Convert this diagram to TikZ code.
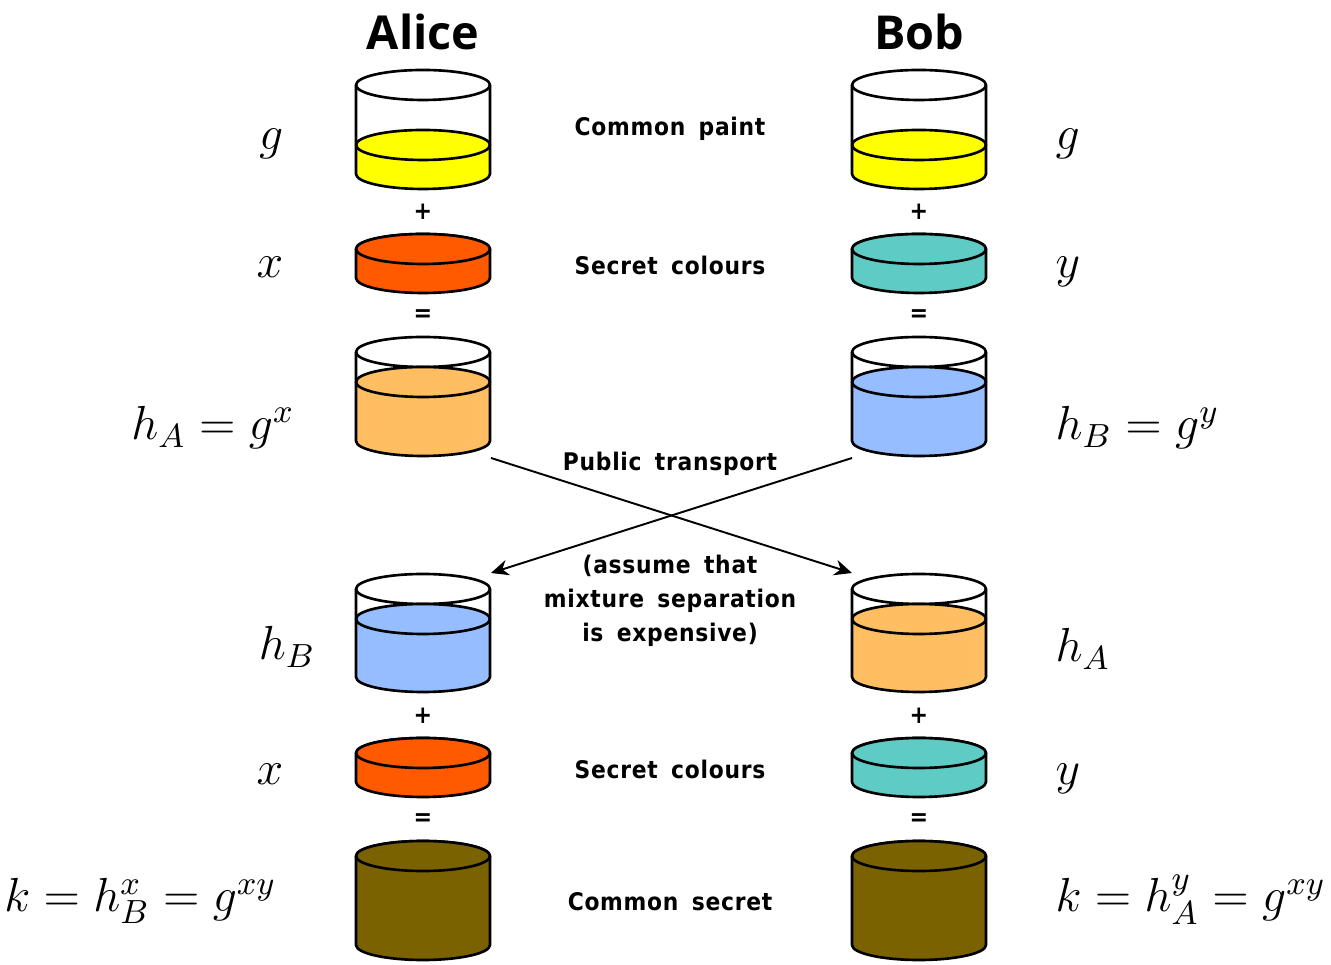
\RequirePackage{fix-cm}
\documentclass[tikz,border=0pt]{standalone}
\usepackage{fontspec}
\setsansfont{Open Sans}
\newfontfamily\capfont[FakeStretch=0.9,LetterSpace=3,WordSpace=1.6]{DejaVu Sans}
\usetikzlibrary{arrows.meta}
\definecolor{paint}{HTML}{FFFF00}
\definecolor{secretA}{HTML}{FF5A00}
\definecolor{secretB}{HTML}{5ECBC4}
\definecolor{mixA}{HTML}{FFBE62}
\definecolor{mixB}{HTML}{96BDFF}
\definecolor{shared}{HTML}{7B6200}

% \jar{centre x}{rim y}{liquid y}{base y}{colour}
\newcommand{\jar}[5]{%
  \draw[glass,fill=white] (#1,#2) ellipse[x radius=67,y radius=15];
  \fill[#5] (#1-67,#3) -- (#1-67,#4)
    arc[start angle=180,end angle=360,x radius=67,y radius=15] -- (#1+67,#3) -- cycle;
  \draw[glass,fill=#5] (#1,#3) ellipse[x radius=67,y radius=15];
  \draw[glass] (#1-67,#2) -- (#1-67,#4)
    arc[start angle=180,end angle=360,x radius=67,y radius=15] -- (#1+67,#2);
}

\begin{document}
\begin{tikzpicture}[x=0.01cm,y=0.01cm,
 glass/.style={line width=.75pt,line join=round},
 who/.style={font=\sffamily\bfseries\fontsize{13.3}{16}\selectfont},
 caption/.style={font=\capfont\bfseries\fontsize{6.9}{9.6}\selectfont,align=center},
 sym/.style={font=\capfont\bfseries\fontsize{7}{9}\selectfont,inner sep=0pt},
 maths/.style={font=\fontsize{13.6}{16}\selectfont,inner sep=0pt},
 transfer/.style={-{Stealth[length=5pt,width=4.5pt]},line width=.55pt}]
\path[use as bounding box] (0,0) rectangle (1331,964);
\node[who] (alice) at (423,932) {Alice};
\node[who] (bob) at (919,932) {Bob};
% Each side mixes the shared paint with its own colour.
\jar{423}{879}{819}{790}{paint}
\jar{919}{879}{819}{790}{paint}
\jar{423}{715}{715}{686}{secretA}
\jar{919}{715}{715}{686}{secretB}
\jar{423}{612}{582}{523}{mixA}
\jar{919}{612}{582}{523}{mixB}
% After the swap, each side adds its own colour again.
\jar{423}{375}{345}{287}{mixB}
\jar{919}{375}{345}{287}{mixA}
\jar{423}{211}{211}{182}{secretA}
\jar{919}{211}{211}{182}{secretB}
\jar{423}{108}{108}{19}{shared}
\jar{919}{108}{108}{19}{shared}
\foreach \cx in {423,919}{
  \node[sym] at (\cx,752) {+};
  \node[sym] at (\cx,648) {=};
  \node[sym] at (\cx,248) {+};
  \node[sym] at (\cx,144) {=};
}
\node[caption] (paintText) at (670,835) {Common paint};
\node[caption] (secretTop) at (670,699) {Secret colours};
\node[caption] (publicText) at (670,500) {Public transport};
\node[caption] (assumeText) at (670,363) {(assume that\\mixture separation\\is expensive)};
\node[caption] (secretLow) at (670,195) {Secret colours};
\node[caption] (sharedText) at (670,62) {Common secret};
% Mixtures are sent across to the other side.
\coordinate (outA) at (491,506);
\coordinate (outB) at (852,506);
\coordinate (inA) at (491,391);
\coordinate (inB) at (852,391);
\draw[transfer] (outA) -- (inB);
\draw[transfer] (outB) -- (inA);
% Alice's values
\node[maths,anchor=base east] (gA) at (284,814) {$g$};
\node[maths,anchor=base east] (xA) at (284,686) {$x$};
\node[maths,anchor=base east] (hA) at (295,524) {$h_A=g^x$};
\node[maths,anchor=base east] (hBrecv) at (316,304) {$h_B$};
\node[maths,anchor=base east] (xAlow) at (284,179) {$x$};
\node[maths,anchor=base east] (kA) at (277,52) {$k=h_B^x=g^{xy}$};
% Bob's values
\node[maths,anchor=base west] (gB) at (1055,814) {$g$};
\node[maths,anchor=base west] (yB) at (1055,686) {$y$};
\node[maths,anchor=base west] (hB) at (1055,524) {$h_B=g^y$};
\node[maths,anchor=base west] (hArecv) at (1055,302) {$h_A$};
\node[maths,anchor=base west] (yBlow) at (1055,179) {$y$};
\node[maths,anchor=base west] (kB) at (1055,52) {$k=h_A^y=g^{xy}$};
\end{tikzpicture}
\end{document}
